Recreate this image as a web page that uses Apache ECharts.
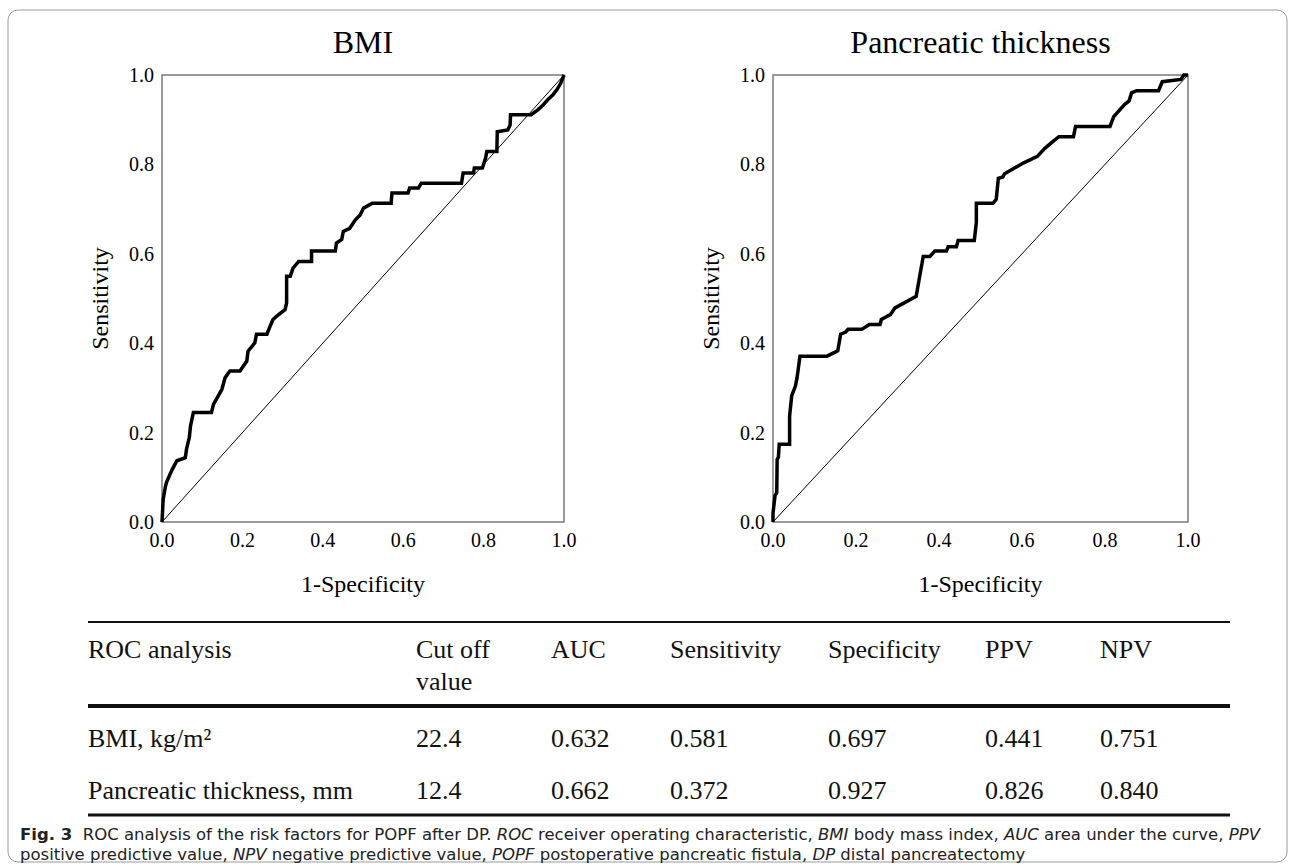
<!DOCTYPE html>
<html>
<head>
<meta charset="utf-8">
<script src="https://cdn.jsdelivr.net/npm/echarts@6/dist/echarts.min.js"></script>
<style>
  html, body { margin: 0; padding: 0; background: #fff; }
  #main { width: 1295px; height: 866px; }
</style>
</head>
<body>
<div id="main"></div>
<script>
// ROC curve points [1-specificity, sensitivity]
const bmiRoc = [
    [0, 0], [0.003, 0.051], [0.008, 0.077], [0.011, 0.088], [0.024, 0.115], [0.037, 0.137],
    [0.058, 0.144], [0.061, 0.163], [0.068, 0.189], [0.071, 0.215], [0.078, 0.245], [0.123, 0.245],
    [0.128, 0.263], [0.140, 0.282], [0.149, 0.297], [0.157, 0.323], [0.169, 0.338], [0.194, 0.338],
    [0.211, 0.360], [0.214, 0.382], [0.231, 0.401], [0.235, 0.420], [0.261, 0.420], [0.269, 0.438],
    [0.276, 0.453], [0.290, 0.464], [0.306, 0.475], [0.310, 0.490], [0.310, 0.550], [0.319, 0.550],
    [0.326, 0.568], [0.340, 0.583], [0.372, 0.583], [0.372, 0.606], [0.431, 0.606], [0.434, 0.624],
    [0.447, 0.632], [0.451, 0.650], [0.467, 0.657], [0.481, 0.676], [0.493, 0.687], [0.501, 0.702],
    [0.517, 0.710], [0.523, 0.713], [0.570, 0.713], [0.572, 0.736], [0.612, 0.736], [0.616, 0.747],
    [0.638, 0.747], [0.645, 0.758], [0.745, 0.758], [0.749, 0.781], [0.775, 0.781], [0.777, 0.792],
    [0.797, 0.792], [0.805, 0.814], [0.808, 0.829], [0.833, 0.829], [0.834, 0.873], [0.860, 0.877],
    [0.866, 0.888], [0.867, 0.911], [0.918, 0.911], [0.935, 0.922], [0.948, 0.933], [0.960, 0.945],
    [0.972, 0.955], [0.983, 0.968], [0.992, 0.982], [1, 1]
];
const thicknessRoc = [
    [0, 0], [0, 0.02], [0.005, 0.06], [0.009, 0.065], [0.010, 0.140], [0.013, 0.145], [0.015, 0.174],
    [0.040, 0.174], [0.040, 0.237], [0.045, 0.282], [0.054, 0.304], [0.058, 0.323], [0.065, 0.371],
    [0.130, 0.371], [0.156, 0.383], [0.163, 0.420], [0.175, 0.425], [0.181, 0.431], [0.214, 0.431],
    [0.232, 0.442], [0.258, 0.442], [0.261, 0.453], [0.283, 0.464], [0.294, 0.479], [0.345, 0.505],
    [0.352, 0.542], [0.362, 0.594], [0.378, 0.594], [0.390, 0.606], [0.418, 0.606], [0.422, 0.616],
    [0.442, 0.616], [0.446, 0.630], [0.485, 0.630], [0.490, 0.670], [0.490, 0.713], [0.530, 0.713],
    [0.538, 0.722], [0.543, 0.769], [0.554, 0.772], [0.558, 0.779], [0.603, 0.803], [0.637, 0.818],
    [0.655, 0.836], [0.674, 0.851], [0.689, 0.862], [0.724, 0.862], [0.729, 0.885], [0.812, 0.885],
    [0.821, 0.907], [0.847, 0.934], [0.858, 0.942], [0.864, 0.960], [0.876, 0.965], [0.929, 0.965],
    [0.938, 0.985], [0.983, 0.990], [0.990, 1.0], [1, 1]
];
const diagonal = [[0, 0], [1, 1]];

const plotTitles = ['BMI', 'Pancreatic thickness'];
const xName = '1-Specificity';
const yName = 'Sensitivity';

const tableHeader = ['ROC analysis', 'Cut off\nvalue', 'AUC', 'Sensitivity', 'Specificity', 'PPV', 'NPV'];
const tableRows = [
    ['BMI, kg/m²', '22.4', '0.632', '0.581', '0.697', '0.441', '0.751'],
    ['Pancreatic thickness, mm', '12.4', '0.662', '0.372', '0.927', '0.826', '0.840']
];

const captionLine1 = '{b|Fig. 3}  ROC analysis of the risk factors for POPF after DP. {i|ROC} receiver operating characteristic, {i|BMI} body mass index, {i|AUC} area under the curve, {i|PPV}';
const captionLine2 = 'positive predictive value, {i|NPV} negative predictive value, {i|POPF} postoperative pancreatic fistula, {i|DP} distal pancreatectomy';

const serif = '"Liberation Serif", "DejaVu Serif", serif';
const sans = '"DejaVu Sans", "Noto Sans", sans-serif';

const grids = [
    { left: 162, top: 75, width: 402, height: 447 },
    { left: 773, top: 75, width: 415, height: 447 }
];
const tableCols = [88, 416, 551, 670, 828, 985, 1100];
const rowY = [738, 790];

function makeAxis(i, name) {
    return {
        type: 'value', gridIndex: i, min: 0, max: 1, interval: 0.2,
        name: name, nameLocation: 'middle', nameGap: 50,
        nameTextStyle: { fontFamily: serif, fontSize: 24, color: '#000' },
        axisLine: { show: false }, axisTick: { show: false }, splitLine: { show: false },
        axisLabel: {
            margin: 8, fontFamily: serif, fontSize: 20, color: '#000',
            formatter: function (v) { return v.toFixed(1); }
        }
    };
}

const graphics = [];
// outer rounded frame
graphics.push({
    type: 'rect', shape: { x: 8, y: 10, width: 1279, height: 852, r: 10 },
    style: { fill: 'none', stroke: '#9a9a9a', lineWidth: 1 }
});
// plot titles
plotTitles.forEach(function (t, i) {
    graphics.push({
        type: 'text',
        style: {
            text: t, x: grids[i].left + grids[i].width / 2, y: 42,
            textAlign: 'center', textVerticalAlign: 'middle',
            fontFamily: serif, fontSize: 32, fill: '#000'
        }
    });
});
// table rules
[[622, 2], [706, 4], [815, 3]].forEach(function (r) {
    graphics.push({
        type: 'line', shape: { x1: 88, y1: r[0], x2: 1230, y2: r[0] },
        style: { stroke: '#111', lineWidth: r[1] }
    });
});
// table header
tableHeader.forEach(function (h, j) {
    graphics.push({
        type: 'text',
        style: {
            text: h, x: tableCols[j], y: 633, textAlign: 'left', textVerticalAlign: 'top',
            fontFamily: serif, fontSize: 26, lineHeight: 32, fill: '#111'
        }
    });
});
// table body
tableRows.forEach(function (row, r) {
    row.forEach(function (cell, j) {
        graphics.push({
            type: 'text',
            style: {
                text: cell, x: tableCols[j], y: rowY[r], textAlign: 'left', textVerticalAlign: 'middle',
                fontFamily: serif, fontSize: 26, fill: '#111'
            }
        });
    });
});
// caption, one text block of two lines
const capSize = 16.5;
const capLine = 20.5;
const capRich = {
    b: { fontFamily: sans, fontSize: capSize, lineHeight: capLine, fontWeight: 'bold', fill: '#222' },
    i: { fontFamily: sans, fontSize: capSize, lineHeight: capLine, fontStyle: 'italic', fill: '#222' }
};
graphics.push({
    type: 'text',
    style: {
        text: captionLine1 + '\n' + captionLine2, x: 20, y: 824, textAlign: 'left', textVerticalAlign: 'top',
        fontFamily: sans, fontSize: capSize, lineHeight: capLine, fill: '#222', rich: capRich
    }
});

const chart = echarts.init(document.getElementById('main'), null, { renderer: 'svg' });
chart.setOption({
    animation: false,
    backgroundColor: '#fff',
    grid: grids.map(function (g) {
        return Object.assign({ show: true, borderColor: '#7a7a7a', borderWidth: 1.5, backgroundColor: 'transparent' }, g);
    }),
    xAxis: [makeAxis(0, xName), makeAxis(1, xName)],
    yAxis: [makeAxis(0, yName), makeAxis(1, yName)],
    series: [
        {
            type: 'line', xAxisIndex: 0, yAxisIndex: 0, data: diagonal, symbol: 'none', clip: false,
            lineStyle: { color: '#000', width: 1 }
        },
        {
            type: 'line', xAxisIndex: 0, yAxisIndex: 0, data: bmiRoc, symbol: 'none', clip: false,
            lineStyle: { color: '#000', width: 3.5, join: 'miter' }
        },
        {
            type: 'line', xAxisIndex: 1, yAxisIndex: 1, data: diagonal, symbol: 'none', clip: false,
            lineStyle: { color: '#000', width: 1 }
        },
        {
            type: 'line', xAxisIndex: 1, yAxisIndex: 1, data: thicknessRoc, symbol: 'none', clip: false,
            lineStyle: { color: '#000', width: 3.5, join: 'miter' }
        }
    ],
    graphic: graphics
});
</script>
</body>
</html>
